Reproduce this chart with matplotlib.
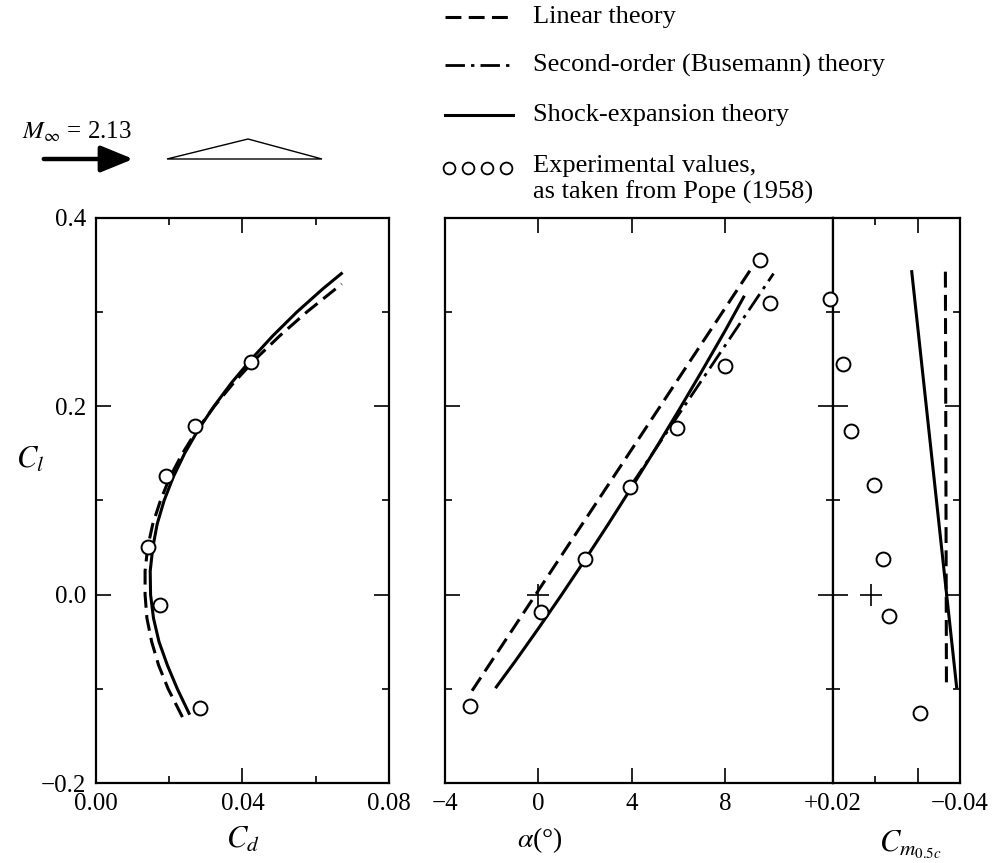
import matplotlib
matplotlib.use("Agg")
import matplotlib.pyplot as plt
from matplotlib.lines import Line2D
from matplotlib.patches import Polygon, FancyArrowPatch

plt.rcParams['font.family'] = ['Liberation Serif', 'DejaVu Serif']
plt.rcParams['mathtext.fontset'] = 'stix'

# --- drag polar (Cl vs Cd) ---
cd_exp = [0.0142, 0.0176, 0.0192, 0.0269, 0.0424, 0.0283]
cl_exp_polar = [0.051, -0.011, 0.126, 0.179, 0.247, -0.120]

cl_se_polar = [-0.126, -0.10, -0.075, -0.05, -0.025, 0.0, 0.025, 0.05, 0.075, 0.10,
               0.125, 0.15, 0.175, 0.20, 0.225, 0.25, 0.275, 0.30, 0.325, 0.341]
cd_se_polar = [0.0254, 0.0222, 0.0195, 0.0172, 0.0157, 0.0149, 0.0148, 0.0155, 0.0167, 0.0186,
               0.0211, 0.0242, 0.0279, 0.0322, 0.0370, 0.0424, 0.0483, 0.0548, 0.0620, 0.0670]

cl_lin_polar = [-0.13, -0.10, -0.075, -0.05, -0.025, 0.0, 0.025, 0.05, 0.075, 0.10,
                0.125, 0.15, 0.175, 0.20, 0.225, 0.25, 0.275, 0.30, 0.33]
cd_lin_polar = [0.0236, 0.0197, 0.0171, 0.0152, 0.0139, 0.0134, 0.0134, 0.0141, 0.0155, 0.0176,
                0.0202, 0.0236, 0.0276, 0.0323, 0.0376, 0.0435, 0.0502, 0.0575, 0.0671]

# --- lift curve (Cl vs alpha) ---
alpha_exp = [-2.91, 0.11, 2.01, 3.91, 5.94, 8.01, 9.51, 9.94]
cl_exp_alpha = [-0.118, -0.018, 0.038, 0.114, 0.177, 0.243, 0.355, 0.310]

alpha_lin = [-2.84, 9.2]
cl_lin_alpha = [-0.102, 0.349]

alpha_se = [-1.8, -1.0, 0.0, 1.0, 2.0, 3.0, 4.0, 5.0, 6.0, 7.0, 8.0, 8.8]
cl_se_alpha = [-0.098, -0.071, -0.036, 0.000, 0.037, 0.075, 0.114, 0.154, 0.195, 0.237, 0.280, 0.316]

alpha_bus = [4.0, 10.08]
cl_bus_alpha = [0.117, 0.341]

# --- moment (Cl vs Cm 0.5c) ---
cm_exp = [0.0214, 0.0151, 0.0115, 0.0005, -0.0035, -0.0066, -0.0211]
cl_exp_cm = [0.314, 0.245, 0.174, 0.116, 0.038, -0.023, -0.126]

cm_se = [-0.0172, -0.0384]
cl_se_cm = [0.343, -0.098]
cm_lin = [-0.0331, -0.0336]
cl_lin_cm = [0.343, -0.098]

W, H = 1004, 863
fig = plt.figure(figsize=(W / 100, H / 100), dpi=100)


def fx(x):
    return x / W


def fy(y):
    return 1 - y / H


def box(x0, x1, y0, y1):
    return [fx(x0), fy(y1), (x1 - x0) / W, (y1 - y0) / H]


ax1 = fig.add_axes(box(96, 389, 218, 783))
ax2 = fig.add_axes(box(445, 833, 218, 783))
ax3 = fig.add_axes(box(833, 960, 218, 783))

solid = dict(color='k', lw=2.2, ls='-')
dashed = dict(color='k', lw=2.2, ls=(0, (5.2, 2.4)))
dashdot = dict(color='k', lw=2.0, ls=(0, (7, 2.2, 1.2, 2.2)))
circ = dict(ls='none', marker='o', ms=10, mfc='white', mec='k', mew=1.4, zorder=5,
            clip_on=False)
cross = dict(ls='none', marker='+', ms=16, mew=1.2, color='k', clip_on=False)

for ax in (ax1, ax2, ax3):
    ax.set_ylim(-0.2, 0.4)
    for s in ax.spines.values():
        s.set_linewidth(1.6)
    ax.set_yticks([-0.2, 0.0, 0.2, 0.4])
    ax.set_yticks([-0.1, 0.1, 0.3], minor=True)
    ax.tick_params(which='both', direction='in', top=True, right=True,
                   width=1.2, labelsize=18, pad=7)
    ax.tick_params(which='major', length=11)
    ax.tick_params(which='minor', length=5)

# left panel
ax1.plot(cd_lin_polar, cl_lin_polar, **dashed)
ax1.plot(cd_se_polar, cl_se_polar, **solid)
ax1.plot(cd_exp, cl_exp_polar, **circ)
ax1.set_xlim(0, 0.08)
ax1.set_xticks([0, 0.04, 0.08])
ax1.set_xticklabels(['0.00', '0.04', '0.08'])
ax1.set_xticks([0.02, 0.06], minor=True)
ax1.set_yticklabels(['\u22120.2', '0.0', '0.2', '0.4'])

# middle panel
ax2.plot(alpha_bus, cl_bus_alpha, **dashdot)
ax2.plot(alpha_lin, cl_lin_alpha, **dashed)
ax2.plot(alpha_se, cl_se_alpha, **solid)
ax2.plot(alpha_exp, cl_exp_alpha, **circ)
ax2.plot([0], [0], **cross)
ax2.set_xlim(-4, 12.63)
ax2.set_xticks([-4, 0, 4, 8])
ax2.set_xticklabels(['\u22124', '0', '4', '8'])
ax2.tick_params(labelleft=False)

# right panel
ax3.plot(cm_lin, cl_lin_cm, **dashed)
ax3.plot(cm_se, cl_se_cm, **solid)
ax3.plot(cm_exp, cl_exp_cm, **circ)
ax3.plot([0.0022], [0], **cross)
ax3.set_xlim(0.02, -0.04)
ax3.set_xticks([0.02, -0.02, -0.04])
ax3.set_xticklabels(['+0.02', '', '\u22120.04'])
ax3.set_xticks([0.0], minor=True)
ax3.tick_params(labelleft=False)

# axis labels
fig.text(fx(30), fy(460), r'$C_l$', fontsize=22, ha='center', va='center')
fig.text(fx(243), fy(840), r'$C_d$', fontsize=22, ha='center', va='center')
fig.text(fx(540), fy(840), r'$\alpha$(°)', fontsize=20, ha='center', va='center')
fig.text(fx(910), fy(845), r'$C_{m_{0.5c}}$', fontsize=22, ha='center', va='center')

# legend, drawn by hand
leg_y = [17, 65, 115]
leg_txt = ['Linear theory', 'Second-order (Busemann) theory', 'Shock-expansion theory']
for y, st, t in zip(leg_y, [dashed, dashdot, solid], leg_txt):
    fig.add_artist(Line2D([fx(445), fx(513)], [fy(y), fy(y)],
                          transform=fig.transFigure, **st))
    fig.text(fx(533), fy(y), t, fontsize=19, ha='left', va='center')
fig.add_artist(Line2D([fx(449), fx(468), fx(487), fx(506)], [fy(168)] * 4,
                      transform=fig.transFigure, ls='none', marker='o', ms=8.5,
                      mfc='white', mec='k', mew=1.3))
fig.text(fx(533), fy(166), 'Experimental values,', fontsize=19, ha='left', va='center')
fig.text(fx(533), fy(192), 'as taken from Pope (1958)', fontsize=19, ha='left', va='center')

# free stream sketch
fig.text(fx(22), fy(132), r'$M_\infty$ = 2.13', fontsize=18, ha='left', va='center')
fig.add_artist(FancyArrowPatch((fx(41), fy(159)), (fx(136), fy(159)),
                               transform=fig.transFigure,
                               arrowstyle='-|>,head_length=1.1,head_width=0.45',
                               mutation_scale=18, lw=3.2, color='k'))
fig.add_artist(Polygon([(fx(167), fy(159)), (fx(248), fy(139)), (fx(322), fy(159))],
                       closed=True, fill=False, lw=1.0, ec='k',
                       transform=fig.transFigure))

fig.savefig('out.png', dpi=100)
